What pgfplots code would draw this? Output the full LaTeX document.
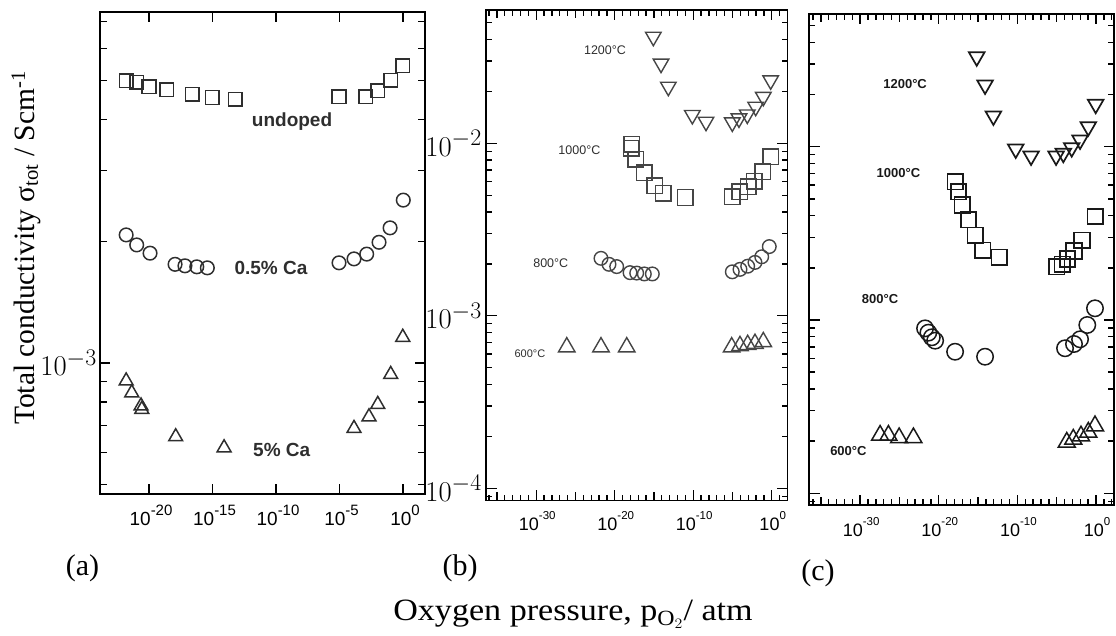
\documentclass[border=0pt]{standalone}
\usepackage{graphicx}
\usepackage{fontspec}
\setmainfont{Liberation Serif}
\newfontfamily\hv{Liberation Sans}
\usepackage{pgfplots}
\usepackage{pgfplotstable}
\pgfplotsset{compat=1.18}
\definecolor{ca}{gray}{0.18}
\definecolor{cb}{gray}{0.27}
\definecolor{cc}{gray}{0.10}
\newcommand{\xa}[1]{\fontsize{19}{21}\selectfont 10\raisebox{10pt}{\fontsize{15}{15}\selectfont #1}}
\newcommand{\xb}[1]{\fontsize{18}{20}\selectfont 10\raisebox{11pt}{\fontsize{11.5}{12}\selectfont #1}}
\newcommand{\ylab}[1]{\scalebox{1.15}{$10^{#1}$}}

% ---------- panel (a): x = log10(pO2/atm) ----------
\pgfplotstableread{
x y
-21.80 5.00e-3
-20.97 4.95e-3
-20.00 4.83e-3
-18.60 4.74e-3
-16.60 4.62e-3
-15.03 4.54e-3
-13.20 4.49e-3
-5.04 4.56e-3
-2.94 4.56e-3
-2.00 4.72e-3
-0.98 5.01e-3
-0.02 5.44e-3
}\asq
\pgfplotstableread{
x y
-21.80 2.075e-3
-20.97 1.96e-3
-19.92 1.87e-3
-17.95 1.755e-3
-17.17 1.74e-3
-16.24 1.73e-3
-15.41 1.72e-3
-5.04 1.77e-3
-3.86 1.81e-3
-2.86 1.86e-3
-1.89 1.99e-3
-1.02 2.16e-3
0.02 2.53e-3
}\aci
\pgfplotstableread{
x y
-21.80 9.03e-4
-21.36 8.44e-4
-20.63 7.83e-4
-20.57 7.68e-4
-17.90 6.57e-4
-14.09 6.17e-4
-3.86 6.89e-4
-2.68 7.36e-4
-1.99 7.90e-4
-0.97 9.37e-4
-0.02 1.158e-3
}\atr

% ---------- panel (b) ----------
\pgfplotstableread{
x y
-15.08 0.0415
-14.10 0.0290
-13.17 0.0213
-10.11 0.0146
-8.37 0.01335
-5.02 0.01322
-4.17 0.01395
-3.11 0.0147
-2.04 0.0163
-1.07 0.0186
-0.13 0.0232
}\bdt
\pgfplotstableread{
x y
-17.92 9.36e-3
-17.83 9.87e-3
-17.32 8.08e-3
-16.27 6.75e-3
-14.87 5.66e-3
-13.81 5.13e-3
-11.04 4.86e-3
-5.02 4.90e-3
-4.04 5.24e-3
-2.98 5.60e-3
-2.22 6.04e-3
-1.15 6.84e-3
-0.09 8.36e-3
}\bsq
\pgfplotstableread{
x y
-21.75 2.155e-3
-20.73 1.99e-3
-19.75 1.93e-3
-18.05 1.78e-3
-17.20 1.77e-3
-16.23 1.75e-3
-15.21 1.75e-3
-5.02 1.80e-3
-4.04 1.86e-3
-3.06 1.94e-3
-2.13 2.04e-3
-1.27 2.20e-3
-0.31 2.52e-3
}\bci
\pgfplotstableread{
x y
-26.11 6.59e-4
-21.75 6.59e-4
-18.47 6.59e-4
-5.10 6.59e-4
-4.04 6.70e-4
-3.06 6.80e-4
-2.13 6.90e-4
-1.07 7.06e-4
}\btr

% ---------- panel (c) ----------
\pgfplotstableread{
x y
-15.17 0.0330
-14.11 0.0227
-13.05 0.01504
-10.21 9.70e-3
-8.26 8.84e-3
-5.08 8.84e-3
-4.16 9.16e-3
-3.09 9.87e-3
-2.03 0.01093
-0.98 0.01304
-0.04 0.01757
}\cdt
\pgfplotstableread{
x y
-17.92 6.28e-3
-17.50 5.50e-3
-17.00 4.61e-3
-16.23 3.78e-3
-15.38 3.09e-3
-14.40 2.53e-3
-12.33 2.30e-3
-5.00 2.03e-3
-4.32 2.10e-3
-3.62 2.25e-3
-2.80 2.50e-3
-1.78 2.89e-3
-0.09 3.95e-3
}\csq
\pgfplotstableread{
x y
-21.74 8.95e-4
-21.32 8.45e-4
-20.88 7.95e-4
-20.46 7.60e-4
-17.92 6.56e-4
-14.11 6.14e-4
-3.94 6.87e-4
-2.80 7.27e-4
-2.03 7.74e-4
-1.11 9.36e-4
-0.13 1.168e-3
}\cci
\pgfplotstableread{
x y
-27.46 2.16e-4
-26.40 2.16e-4
-25.04 2.09e-4
-23.22 2.09e-4
-3.72 1.97e-4
-2.89 2.05e-4
-1.91 2.14e-4
-0.98 2.25e-4
-0.13 2.45e-4
}\ctr

\begin{document}
\begin{tikzpicture}
\path[use as bounding box] (0pt,0pt) rectangle (1116pt,635pt);

% ================= (a) =================
\begin{axis}[
  anchor=south west, scale only axis, clip=false, ymode=log, tick align=inside,
  at={(100pt,141pt)}, width=325pt, height=482pt,
  xmin=-23.86, xmax=1.73, ymin=4.74e-4, ymax=7.39e-3,
  axis line style={line width=1.8pt, black},
  xtick={-20,-15,-10,-5,0},
  xticklabels={\xa{-20},\xa{-15},\xa{-10},\xa{-5},\xa{0}},
  x tick label style={font=\hv, anchor=base, yshift=-31pt, xshift=2pt, inner sep=0pt},
  ytick={1e-4,1e-3,1e-2}, yticklabels={\ylab{-4},\ylab{-3},\ylab{-2}},
  minor ytick={5e-4,6e-4,7e-4,8e-4,9e-4,2e-3,3e-3,4e-3,5e-3,6e-3,7e-3},
  y tick label style={font=\fontsize{24.88}{28}\selectfont, anchor=east, inner sep=0pt, xshift=-3pt},
  major tick length=10pt, minor tick length=7pt,
  tick style={black, line width=1.4pt},
]
\addplot[only marks, mark=square, mark size=6.8pt, mark options={line width=1.5pt, draw=ca, fill=none}] table {\asq};
\addplot[only marks, mark=o, mark size=6.8pt, mark options={line width=1.5pt, draw=ca}] table {\aci};
\addplot[only marks, mark=triangle, mark size=8pt, mark options={line width=1.5pt, draw=ca}] table {\atr};
\node[font=\hv\bfseries\fontsize{19}{21}\selectfont, text=ca] at (axis cs:-8.74,3.95e-3) {undoped};
\node[font=\hv\bfseries\fontsize{19}{21}\selectfont, text=ca] at (axis cs:-10.4,1.72e-3) {0.5\% Ca};
\node[font=\hv\bfseries\fontsize{19}{21}\selectfont, text=ca] at (axis cs:-9.55,6.09e-4) {5\% Ca};
\end{axis}

% ================= (b) =================
\begin{axis}[
  anchor=south west, scale only axis, clip=false, ymode=log, tick align=inside,
  at={(486pt,134.5pt)}, width=301.7pt, height=490.5pt,
  xmin=-36.4, xmax=2.04, ymin=8.5e-5, ymax=0.0593,
  axis line style={line width=1.4pt, black},
  xtick={-30,-20,-10,0},
  xticklabels={\xb{-30},\xb{-20},\xb{-10},\xb{0}},
  minor xtick={-36,...,2},
  extra x ticks={-35,-25,-15,-5}, extra x tick labels={},
  extra x tick style={major tick length=8.5pt},
  x tick label style={font=\hv, anchor=base, yshift=-29.5pt, xshift=1pt, inner sep=0pt},
  ytick={1e-4,1e-3,1e-2}, yticklabels={\ylab{-4},\ylab{-3},\ylab{-2}},
  minor ytick={9e-5,2e-4,3e-4,4e-4,5e-4,6e-4,7e-4,8e-4,9e-4,2e-3,3e-3,4e-3,5e-3,6e-3,7e-3,8e-3,9e-3,2e-2,3e-2,4e-2,5e-2},
  y tick label style={font=\fontsize{24.88}{28}\selectfont, anchor=east, inner sep=0pt, xshift=-4pt},
  major tick length=10.5pt, minor tick length=6pt,
  tick style={black, line width=1.3pt},
]
\addplot[only marks, mark=triangle, mark size=9pt, mark options={rotate=180, line width=1.4pt, draw=cb}] table {\bdt};
\addplot[only marks, mark=square, mark size=7.8pt, mark options={line width=1.4pt, draw=cb, fill=none}] table {\bsq};
\addplot[only marks, mark=o, mark size=6.8pt, mark options={line width=1.4pt, draw=cb}] table {\bci};
\addplot[only marks, mark=triangle, mark size=9.5pt, mark options={line width=1.4pt, draw=cb}] table {\btr};
\node[font=\hv\fontsize{12.5}{14}\selectfont, text=ca] at (axis cs:-21.24,0.0347) {1200°C};
\node[font=\hv\fontsize{12.5}{14}\selectfont, text=ca] at (axis cs:-24.5,9.15e-3) {1000°C};
\node[font=\hv\fontsize{12.5}{14}\selectfont, text=ca] at (axis cs:-28.15,2.03e-3) {800°C};
\node[font=\hv\fontsize{11}{13}\selectfont, text=ca] at (axis cs:-30.8,6.04e-4) {600°C};
\end{axis}

% ================= (c) =================
\begin{axis}[
  anchor=south west, scale only axis, clip=false, ymode=log, tick align=inside,
  at={(809pt,130pt)}, width=305pt, height=491pt,
  xmin=-36.5, xmax=2.29, ymin=8.56e-5, ymax=0.0583,
  axis line style={line width=1.4pt, black},
  xtick={-30,-20,-10,0},
  xticklabels={\xb{-30},\xb{-20},\xb{-10},\xb{0}},
  minor xtick={-36,...,2},
  extra x ticks={-35,-25,-15,-5}, extra x tick labels={},
  extra x tick style={major tick length=8.5pt},
  x tick label style={font=\hv, anchor=base, yshift=-31.7pt, xshift=1pt, inner sep=0pt},
  ytick={1e-4,1e-3,1e-2}, yticklabels={},
  minor ytick={9e-5,2e-4,3e-4,4e-4,5e-4,6e-4,7e-4,8e-4,9e-4,2e-3,3e-3,4e-3,5e-3,6e-3,7e-3,8e-3,9e-3,2e-2,3e-2,4e-2,5e-2},
  major tick length=10.5pt, minor tick length=6pt,
  tick style={black, line width=1.4pt},
]
\addplot[only marks, mark=triangle, mark size=9pt, mark options={rotate=180, line width=1.7pt, draw=cc}] table {\cdt};
\addplot[only marks, mark=square, mark size=7.7pt, mark options={line width=1.7pt, draw=cc, fill=none}] table {\csq};
\addplot[only marks, mark=o, mark size=8.2pt, mark options={line width=1.5pt, draw=cc}] table {\cci};
\addplot[only marks, mark=triangle, mark size=9.8pt, mark options={line width=1.5pt, draw=cc}] table {\ctr};
\node[font=\hv\bfseries\fontsize{13}{15}\selectfont, text=cc] at (axis cs:-24.28,0.023) {1200°C};
\node[font=\hv\bfseries\fontsize{13}{15}\selectfont, text=cc] at (axis cs:-25.13,7.08e-3) {1000°C};
\node[font=\hv\bfseries\fontsize{13}{15}\selectfont, text=cc] at (axis cs:-27.46,1.32e-3) {800°C};
\node[font=\hv\bfseries\fontsize{13}{15}\selectfont, text=cc] at (axis cs:-31.49,1.75e-4) {600°C};
\end{axis}

% ================= outer annotations =================
\node[rotate=90, font=\fontsize{29.5}{32}\selectfont] at (26pt,387pt) {Total conductivity σ\textsubscript{tot} / Scm\textsuperscript{-1}};
\node[font=\fontsize{30}{32}\selectfont] at (82.5pt,66.5pt) {(a)};
\node[font=\fontsize{30}{32}\selectfont] at (460pt,67pt) {(b)};
\node[font=\fontsize{30}{32}\selectfont] at (818pt,62pt) {(c)};
\node[anchor=base, font=\fontsize{31}{33}\selectfont] at (573pt,15pt) {\scalebox{1.1}[1]{Oxygen pressure, p$_{\mathrm{O}_2}$/ atm}};
\end{tikzpicture}
\end{document}
